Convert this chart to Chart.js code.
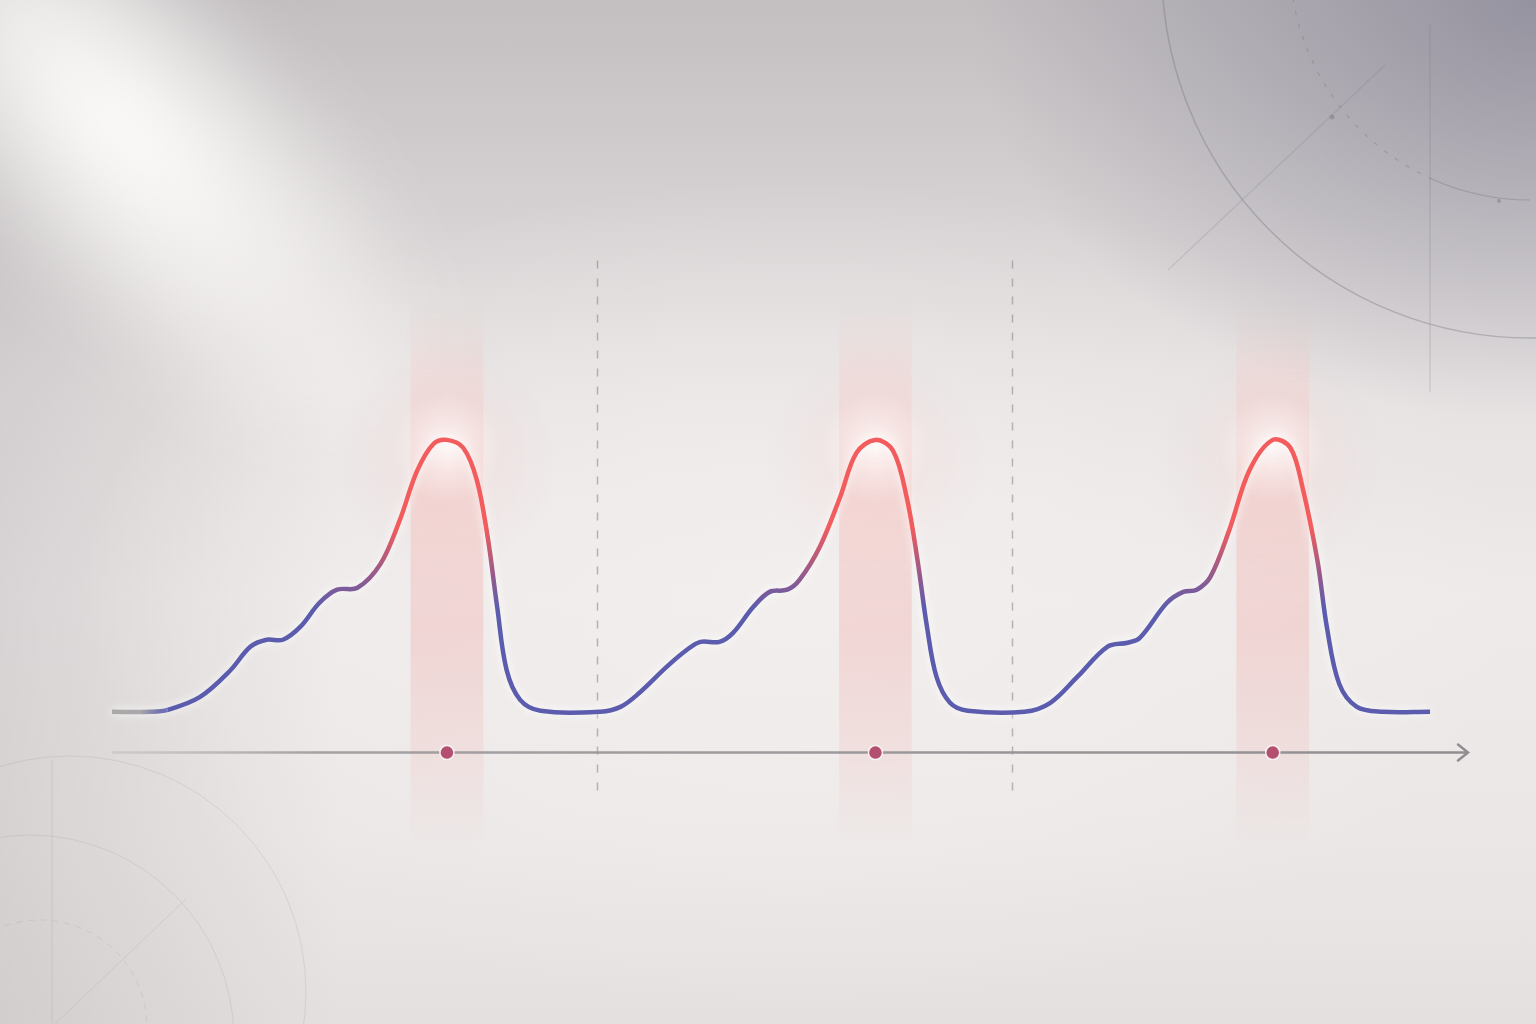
<!DOCTYPE html>
<html>
<head>
<meta charset="utf-8">
<script src="https://cdn.jsdelivr.net/npm/chart.js@4.4.1/dist/chart.umd.min.js"></script>
<style>
  html, body { margin: 0; padding: 0; }
  body {
    width: 1536px;
    height: 1024px;
    overflow: hidden;
    position: relative;
    background:
      radial-gradient(ellipse 760px 560px at 100% 0%, rgba(130,128,146,0.7), rgba(130,128,146,0) 75%),
      radial-gradient(ellipse 900px 520px at 52% 58%, rgba(243,239,239,0.9), rgba(243,239,239,0) 80%),
      linear-gradient(90deg, rgba(175,171,173,0.35), rgba(175,171,173,0) 22%),
      linear-gradient(180deg, #c3bfc1 0%, #d3cfd0 18%, #e6e2e2 38%, #eeeaea 58%, #ebe7e6 82%, #e4e0df 100%);
  }
  #beam {
    position: absolute;
    left: -190px;
    top: 60px;
    width: 860px;
    height: 380px;
    transform: rotate(46deg);
    background: radial-gradient(ellipse 440px 175px at 30% 50%, rgba(255,254,253,1), rgba(255,253,251,0.7) 40%, rgba(255,252,250,0) 100%);
    filter: blur(30px);
  }
  canvas { position: absolute; left: 0; top: 0; }
</style>
</head>
<body>
<div id="beam"></div>
<canvas id="graph" width="1536" height="1024"></canvas>
<script>
// readings of the trace: time (arbitrary units) and level (0 = rest, 100 = peak)
const time = [
  0, 2.8, 4.1, 6.5, 8.7, 10.2, 11.4, 12.6, 13.9, 15.3, 16.6, 18.1, 19.8, 21.2, 22.5, 23.7, 24.7, 25.9, 26.9, 27.7, 28.4, 29.1, 30.1, 31.6, 36.0,
  37.5, 38.9, 40.9, 42.4, 43.4, 44.8, 45.8, 47.3, 48.5, 49.8, 50.7, 52.2, 53.7, 54.9, 56.3, 57.6, 58.6, 59.4, 60.1, 60.8, 61.8, 63.1, 67.3,
  69.2, 71.2, 73.4, 74.9, 75.8, 77.8, 79.0, 80.0, 81.0, 82.4, 83.9, 85.6, 86.9, 87.8, 88.9, 89.6, 90.5, 91.8, 93.7, 97.2
];
const level = [
  0, 0, 0.7, 5.5, 15.1, 23.9, 26.5, 26.5, 31.3, 40.1, 44.9, 45.6, 54.4, 70.2, 88.6, 98.5, 100, 97.1, 85.3, 64.4, 38.7, 15.4, 4.4, 0.4, 0,
  1.8, 7.0, 16.5, 22.8, 25.7, 25.7, 29.0, 38.6, 44.1, 44.9, 48.5, 60.7, 79.0, 95.2, 100, 96.0, 79.0, 55.9, 31.3, 12.9, 3.3, 0.4, 0,
  3.3, 12.9, 23.9, 25.4, 27.2, 40.1, 44.1, 44.9, 49.6, 66.9, 89.0, 100, 97.1, 82.4, 55.5, 30.9, 10.3, 1.8, 0, 0
];
const peaks = [24.7, 56.3, 85.6];
const cycleBounds = [35.8, 66.4];
const axisLevel = -15;
const axisSpan = [0, 100];
const bandSpan = [-49, 151];
const dividerSpan = [-32, 166];
const xRange = [0, 100];
const yRange = [-106, 225];

const BLUE = '#5b5cae';
const PURPLE = '#a35a84';
const RED = '#f35c5c';
const GRAY = '#aaa8a9';
const AXIS = '#8f8d90';

let leadGrad = null;

function curveColor(c) {
  const chart = c.chart;
  if (!chart.chartArea) return BLUE;
  const y = chart.scales.y;
  const g = chart.ctx.createLinearGradient(0, y.getPixelForValue(0), 0, y.getPixelForValue(100));
  g.addColorStop(0, BLUE);
  g.addColorStop(0.38, BLUE);
  g.addColorStop(0.53, PURPLE);
  g.addColorStop(0.68, RED);
  g.addColorStop(1, RED);
  return g;
}

function leadColor(chart) {
  if (!leadGrad) {
    const x = chart.scales.x;
    leadGrad = chart.ctx.createLinearGradient(x.getPixelForValue(time[0]), 0, x.getPixelForValue(time[2]), 0);
    leadGrad.addColorStop(0, GRAY);
    leadGrad.addColorStop(0.5, GRAY);
    leadGrad.addColorStop(1, BLUE);
  }
  return leadGrad;
}

function axisColor(c) {
  const chart = c.chart;
  if (!chart.chartArea) return AXIS;
  const x = chart.scales.x;
  const g = chart.ctx.createLinearGradient(x.getPixelForValue(axisSpan[0]), 0, x.getPixelForValue(axisSpan[1]), 0);
  g.addColorStop(0, 'rgba(160,158,160,0.25)');
  g.addColorStop(0.15, 'rgba(150,148,150,0.85)');
  g.addColorStop(1, AXIS);
  return g;
}

function bandColor(c) {
  const chart = c.chart;
  if (!chart.chartArea) return 'rgba(245,175,170,0.3)';
  const y = chart.scales.y;
  const g = chart.ctx.createLinearGradient(0, y.getPixelForValue(bandSpan[1]), 0, y.getPixelForValue(bandSpan[0]));
  g.addColorStop(0, 'rgba(248,190,185,0)');
  g.addColorStop(0.12, 'rgba(248,185,180,0.18)');
  g.addColorStop(0.3, 'rgba(245,175,170,0.32)');
  g.addColorStop(0.6, 'rgba(240,172,168,0.36)');
  g.addColorStop(0.82, 'rgba(240,180,175,0.22)');
  g.addColorStop(1, 'rgba(240,185,180,0)');
  return g;
}

function ring(ctx, cx, cy, r, a0, a1, dash) {
  ctx.setLineDash(dash || []);
  ctx.beginPath();
  ctx.arc(cx, cy, r, a0, a1);
  ctx.stroke();
}

function seg(ctx, x0, y0, x1, y1) {
  ctx.beginPath();
  ctx.moveTo(x0, y0);
  ctx.lineTo(x1, y1);
  ctx.stroke();
}

// faint drafting marks in the corners
function drawRings(ctx) {
  const d = Math.PI / 180;
  ctx.save();
  ctx.strokeStyle = 'rgba(118,116,128,0.38)';
  ctx.lineWidth = 1.5;
  ring(ctx, 1530, -30, 368, 0, Math.PI);
  ctx.lineWidth = 1.2;
  ring(ctx, 1530, -40, 240, 90 * d, 114 * d);
  ring(ctx, 1530, -40, 240, 114 * d, 180 * d, [4, 9]);
  ctx.setLineDash([]);
  ctx.strokeStyle = 'rgba(118,116,128,0.25)';
  seg(ctx, 1430, 25, 1430, 392);
  ctx.strokeStyle = 'rgba(118,116,128,0.2)';
  seg(ctx, 1168, 270, 1385, 65);
  ctx.fillStyle = 'rgba(118,116,128,0.45)';
  ctx.beginPath(); ctx.arc(1332, 117, 2.5, 0, 2 * Math.PI); ctx.fill();
  ctx.beginPath(); ctx.arc(1499, 201, 2, 0, 2 * Math.PI); ctx.fill();

  ctx.strokeStyle = 'rgba(150,145,145,0.2)';
  ctx.lineWidth = 1;
  ring(ctx, 70, 992, 236, 0, 2 * Math.PI);
  ring(ctx, 30, 1039, 204, 0, 2 * Math.PI);
  ring(ctx, 40, 1027, 107, 0, 2 * Math.PI, [6, 6]);
  ctx.setLineDash([]);
  seg(ctx, 52, 760, 52, 1024);
  seg(ctx, 186, 899, 55, 1024);
  ctx.restore();
}

const decorations = {
  id: 'decorations',
  beforeDraw(chart) {
    drawRings(chart.ctx);
  },
  beforeDatasetsDraw(chart) {
    const { ctx, scales: { x, y } } = chart;
    ctx.save();
    ctx.strokeStyle = 'rgba(140,138,140,0.6)';
    ctx.lineWidth = 1.5;
    ctx.setLineDash([8, 10]);
    cycleBounds.forEach(b => {
      const px = Math.round(x.getPixelForValue(b)) + 0.5;
      seg(ctx, px, y.getPixelForValue(dividerSpan[1]), px, y.getPixelForValue(dividerSpan[0]));
    });
    ctx.restore();
  },
  beforeDatasetDraw(chart, args) {
    if (args.index === 0) {
      chart.ctx.save();
      chart.ctx.shadowColor = 'rgba(255,255,255,0.95)';
      chart.ctx.shadowBlur = 10;
    }
  },
  afterDatasetDraw(chart, args) {
    const { ctx, scales: { x, y } } = chart;
    if (args.index === 0) {
      ctx.restore();
    }
    if (args.index === 3) {
      peaks.forEach(p => {
        const px = x.getPixelForValue(p);
        const py = y.getPixelForValue(100);
        let g = ctx.createRadialGradient(px, py + 20, 0, px, py + 20, 110);
        g.addColorStop(0, 'rgba(250,200,195,0.25)');
        g.addColorStop(1, 'rgba(250,200,195,0)');
        ctx.fillStyle = g;
        ctx.fillRect(px - 110, py - 90, 220, 220);
        g = ctx.createRadialGradient(px, py + 8, 0, px, py + 8, 55);
        g.addColorStop(0, 'rgba(255,255,255,0.8)');
        g.addColorStop(0.5, 'rgba(255,255,255,0.35)');
        g.addColorStop(1, 'rgba(255,255,255,0)');
        ctx.fillStyle = g;
        ctx.fillRect(px - 55, py - 47, 110, 110);
      });
    }
    if (args.index === 2) {
      const tip = x.getPixelForValue(axisSpan[1]);
      const py = y.getPixelForValue(axisLevel);
      ctx.save();
      ctx.strokeStyle = AXIS;
      ctx.lineWidth = 2.5;
      ctx.lineCap = 'round';
      ctx.beginPath();
      ctx.moveTo(tip - 10, py - 8);
      ctx.lineTo(tip, py);
      ctx.lineTo(tip - 10, py + 8);
      ctx.stroke();
      ctx.restore();
    }
  }
};

const curve = time.map((t, i) => ({ x: t, y: level[i] }));

new Chart(document.getElementById('graph'), {
  type: 'line',
  data: {
    datasets: [
      {
        data: curve,
        borderColor: curveColor,
        borderWidth: 4.5,
        tension: 0.35,
        pointRadius: 0,
        fill: false,
        clip: false,
        order: 2,
        segment: {
          borderColor: s => (s.p0DataIndex < 2 ? leadColor(s.chart) : undefined)
        }
      },
      {
        type: 'scatter',
        data: peaks.map(p => ({ x: p, y: axisLevel })),
        pointRadius: 7,
        pointBackgroundColor: '#b3506f',
        pointBorderColor: 'rgba(255,255,255,0.85)',
        pointBorderWidth: 1.5,
        clip: false,
        order: 0
      },
      {
        data: axisSpan.map(t => ({ x: t, y: axisLevel })),
        borderColor: axisColor,
        borderWidth: 2.5,
        pointRadius: 0,
        clip: false,
        order: 3
      },
      {
        type: 'bar',
        data: peaks.map(p => ({ x: p, y: bandSpan })),
        backgroundColor: bandColor,
        borderWidth: 0,
        barThickness: 72,
        clip: false,
        order: 4
      }
    ]
  },
  options: {
    responsive: false,
    devicePixelRatio: 1,
    animation: false,
    events: [],
    layout: { padding: { left: 112, right: 68, top: 100, bottom: 24 } },
    plugins: {
      legend: { display: false },
      tooltip: { enabled: false }
    },
    scales: {
      x: { type: 'linear', min: xRange[0], max: xRange[1], offset: false, display: false },
      y: { type: 'linear', min: yRange[0], max: yRange[1], display: false }
    }
  },
  plugins: [decorations]
});
</script>
</body>
</html>
